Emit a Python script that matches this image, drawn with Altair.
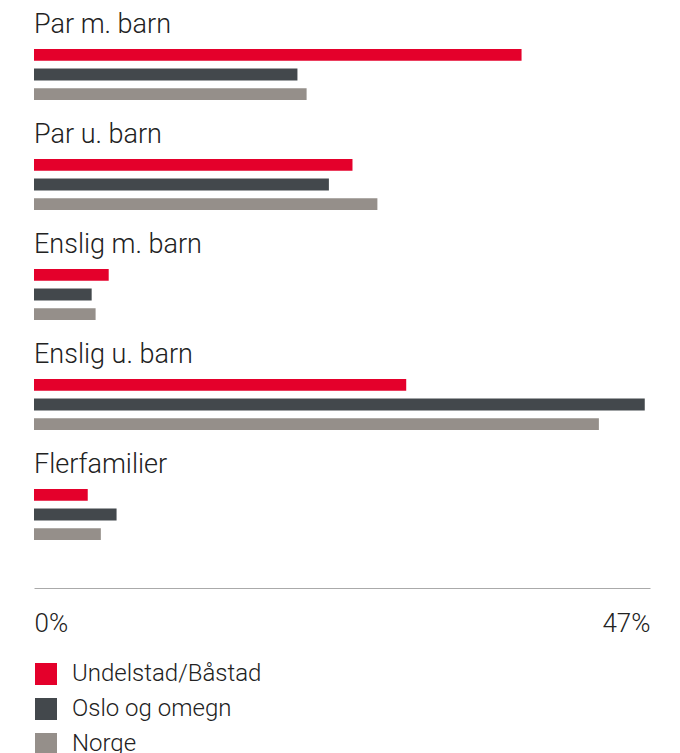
import altair as alt
import pandas as pd

categories = ["Par m. barn", "Par u. barn", "Enslig m. barn", "Enslig u. barn", "Flerfamilier"]
series = ["Undelstad/Båstad", "Oslo og omegn", "Norge"]
undelstad = [37.2, 24.3, 5.7, 28.4, 4.1]
oslo = [20.1, 22.5, 4.4, 46.6, 6.3]
norge = [20.8, 26.2, 4.7, 43.1, 5.1]
colors = ["#e4002b", "#43484c", "#958f8a"]

rows = []
for i, c in enumerate(categories):
    for s, vals in zip(series, [undelstad, oslo, norge]):
        rows.append({"kategori": c, "serie": s, "verdi": vals[i]})
df = pd.DataFrame(rows)

FONT = "'Roboto Light', Roboto"

base = alt.Chart(df).mark_bar(cornerRadius=0).encode(
    x=alt.X("verdi:Q",
            scale=alt.Scale(domain=[0, 47], nice=False),
            axis=alt.Axis(values=[0, 47], labelExpr="datum.value + '%'", ticks=False, grid=False,
                          domainColor="#aaaaaa", domainWidth=1, labelFlush=True, labelPadding=22,
                          offset=48, title=None, labelFontSize=26, labelFont=FONT,
                          labelFontWeight=300, labelColor="#222222")),
    y=alt.Y("serie:N", sort=series, axis=None,
            scale=alt.Scale(paddingInner=0.4, paddingOuter=0)),
    color=alt.Color("serie:N", sort=series,
                    scale=alt.Scale(domain=series, range=colors),
                    legend=alt.Legend(orient="none", legendX=0, legendY=613, direction="vertical",
                                      symbolType="square", symbolSize=484, title=None,
                                      labelFontSize=24, labelFont=FONT, labelFontWeight=300,
                                      labelColor="#222222", labelOffset=14, rowPadding=11,
                                      labelLimit=0, symbolStrokeWidth=0, symbolOpacity=1)),
).properties(width=616, height=51)

chart = base.facet(
    row=alt.Row("kategori:N", sort=categories, title=None,
                header=alt.Header(labelOrient="top", labelAnchor="start", labelAngle=0,
                                  labelFontSize=27, labelFont=FONT, labelFontWeight=300,
                                  labelColor="#222222", labelPadding=-17, labelAlign="left")),
    spacing=21,
).properties(
    padding={"left": 26, "top": 3, "right": 20, "bottom": 0},
    background="white",
).configure_view(stroke=None)

chart.save("out.html", embed_options={"renderer": "svg", "actions": False})
